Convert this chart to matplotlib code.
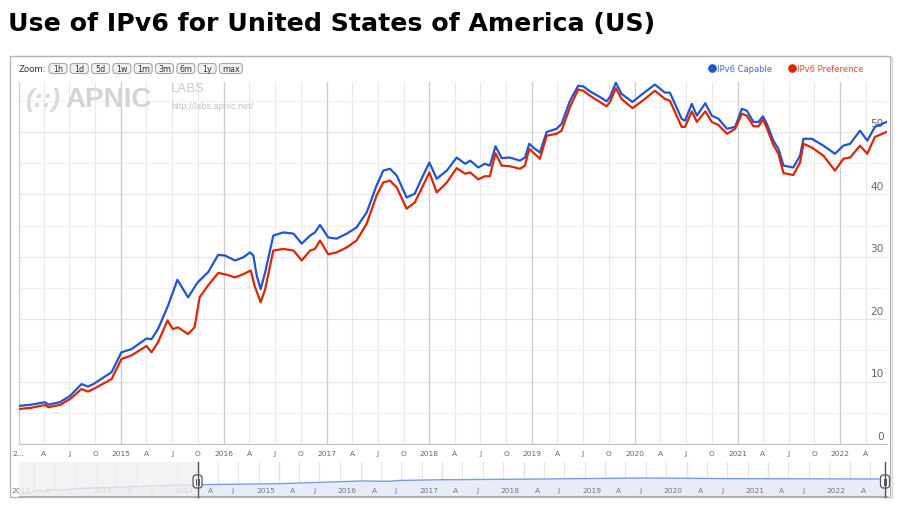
"""IPv6 use for the US (APNIC Labs style chart)."""
import numpy as np
import matplotlib
matplotlib.use("Agg")
import matplotlib.pyplot as plt
import matplotlib.dates as mdates
from matplotlib.patches import FancyBboxPatch, Rectangle

TITLE = "Use of IPv6 for United States of America (US)"
SERIES = ["IPv6 Capable", "IPv6 Preference"]
ZOOM_BTNS = ["1h", "1d", "5d", "1w", "1m", "3m", "6m", "1y", "max"]
Y_TICKS = [0, 10, 20, 30, 40, 50]
Y_MINOR = [5, 15, 25, 35, 45, 55]
X_START, X_END = "2014-01-01", "2022-06-15"
NAV_START = "2011-10-24"

cap_dates = [
    "2014-01-01", "2014-02-15", "2014-04-05", "2014-04-17", "2014-05-28",
    "2014-07-03", "2014-08-13", "2014-09-05", "2014-09-24", "2014-11-28",
    "2015-01-02", "2015-02-07", "2015-04-01", "2015-04-19", "2015-05-12",
    "2015-06-17", "2015-07-20", "2015-08-27", "2015-09-30", "2015-11-06",
    "2015-12-12", "2016-01-05", "2016-02-10", "2016-03-10", "2016-04-03",
    "2016-04-15", "2016-04-27", "2016-05-11", "2016-05-27", "2016-06-25",
    "2016-07-31", "2016-09-05", "2016-10-04", "2016-11-03", "2016-11-20",
    "2016-12-08", "2017-01-06", "2017-02-05", "2017-03-13", "2017-04-17",
    "2017-05-23", "2017-06-27", "2017-07-21", "2017-08-14", "2017-09-07",
    "2017-10-12", "2017-11-10", "2017-12-04", "2018-01-01", "2018-01-27",
    "2018-03-04", "2018-04-08", "2018-05-08", "2018-05-26", "2018-06-24",
    "2018-07-17", "2018-08-04", "2018-08-24", "2018-09-15", "2018-10-14",
    "2018-11-19", "2018-12-07", "2018-12-22", "2019-01-05", "2019-01-29",
    "2019-02-22", "2019-03-29", "2019-04-16", "2019-05-16", "2019-06-14",
    "2019-07-02", "2019-07-26", "2019-08-30", "2019-09-23", "2019-10-05",
    "2019-10-26", "2019-11-15", "2019-12-24", "2020-01-29", "2020-03-13",
    "2020-04-17", "2020-05-05", "2020-06-16", "2020-06-28", "2020-07-22",
    "2020-08-09", "2020-09-08", "2020-10-01", "2020-10-25", "2020-11-24",
    "2020-12-23", "2021-01-16", "2021-02-03", "2021-02-26", "2021-03-16",
    "2021-04-01", "2021-04-15", "2021-05-08", "2021-05-26", "2021-06-13",
    "2021-07-18", "2021-08-11", "2021-08-23", "2021-09-22", "2021-11-02",
    "2021-12-13", "2022-01-12", "2022-02-05", "2022-03-12", "2022-04-07",
    "2022-05-04", "2022-06-15",
]
cap_vals = [
    6.1, 6.3, 6.7, 6.3, 6.7, 7.7, 9.6, 9.2, 9.6, 11.5,
    14.7, 15.2, 16.9, 16.8, 18.4, 22.2, 26.3, 23.5, 25.9, 27.5,
    30.3, 30.2, 29.4, 29.9, 30.7, 30.2, 27.0, 24.8, 27.5, 33.4,
    33.9, 33.7, 32.1, 33.4, 33.9, 35.1, 33.1, 32.9, 33.7, 34.7,
    37.1, 41.4, 43.8, 44.1, 43.0, 39.5, 40.1, 42.5, 45.1, 42.5,
    43.8, 45.9, 44.9, 45.4, 44.3, 44.9, 44.6, 47.7, 45.8, 45.9,
    45.4, 45.9, 48.1, 47.5, 46.7, 50.0, 50.5, 51.3, 55.0, 57.4,
    57.3, 56.5, 55.6, 54.9, 55.6, 57.9, 56.1, 54.8, 56.1, 57.6,
    56.3, 56.3, 52.1, 51.8, 54.5, 52.6, 54.6, 52.6, 52.1, 50.5,
    50.8, 53.7, 53.4, 51.6, 51.6, 52.5, 51.3, 48.6, 47.3, 44.6,
    44.3, 46.2, 48.9, 48.9, 47.8, 46.5, 47.8, 48.1, 50.2, 48.6,
    50.8, 51.6,
]

pref_dates = [
    "2014-01-01", "2014-02-15", "2014-04-05", "2014-04-17", "2014-05-28",
    "2014-07-03", "2014-08-13", "2014-09-05", "2014-09-24", "2014-11-28",
    "2015-01-02", "2015-02-07", "2015-04-01", "2015-04-19", "2015-05-12",
    "2015-06-15", "2015-07-04", "2015-07-22", "2015-08-27", "2015-09-19",
    "2015-10-07", "2015-11-06", "2015-12-12", "2016-01-05", "2016-02-10",
    "2016-03-10", "2016-04-06", "2016-04-19", "2016-05-11", "2016-05-27",
    "2016-06-25", "2016-07-31", "2016-09-05", "2016-10-04", "2016-11-03",
    "2016-11-20", "2016-12-08", "2017-01-06", "2017-02-05", "2017-03-13",
    "2017-04-17", "2017-05-23", "2017-06-27", "2017-07-21", "2017-08-14",
    "2017-09-07", "2017-10-12", "2017-11-10", "2017-12-04", "2018-01-01",
    "2018-01-27", "2018-03-04", "2018-04-08", "2018-05-08", "2018-05-26",
    "2018-06-24", "2018-07-17", "2018-08-04", "2018-08-24", "2018-09-15",
    "2018-10-14", "2018-11-19", "2018-12-07", "2018-12-22", "2019-01-05",
    "2019-01-29", "2019-02-22", "2019-03-29", "2019-04-16", "2019-05-16",
    "2019-06-14", "2019-07-02", "2019-07-26", "2019-08-30", "2019-09-23",
    "2019-10-05", "2019-10-26", "2019-11-15", "2019-12-24", "2020-01-29",
    "2020-03-13", "2020-04-17", "2020-05-05", "2020-06-16", "2020-06-28",
    "2020-07-22", "2020-08-09", "2020-09-08", "2020-10-01", "2020-10-25",
    "2020-11-24", "2020-12-23", "2021-01-16", "2021-02-03", "2021-02-26",
    "2021-03-16", "2021-04-01", "2021-04-15", "2021-05-08", "2021-05-26",
    "2021-06-13", "2021-07-18", "2021-08-11", "2021-08-23", "2021-09-22",
    "2021-11-02", "2021-12-13", "2022-01-12", "2022-02-05", "2022-03-12",
    "2022-04-07", "2022-05-04", "2022-06-15",
]
pref_vals = [
    5.6, 5.8, 6.25, 5.9, 6.25, 7.2, 8.8, 8.4, 8.8, 10.4,
    13.6, 14.2, 15.7, 14.7, 16.3, 19.8, 18.4, 18.7, 17.6, 18.7,
    23.5, 25.4, 27.4, 27.2, 26.7, 27.2, 27.8, 25.4, 22.7, 24.8,
    31.0, 31.25, 31.0, 29.4, 31.0, 31.25, 32.6, 30.4, 30.7, 31.5,
    32.6, 35.3, 39.8, 41.9, 42.2, 41.1, 37.7, 38.7, 40.9, 43.5,
    40.3, 41.9, 44.2, 43.3, 43.5, 42.4, 42.9, 42.9, 46.6, 44.6,
    44.5, 44.1, 44.6, 47.3, 46.7, 45.7, 49.4, 49.7, 50.2, 54.0,
    56.8, 56.6, 55.8, 54.8, 54.1, 54.8, 57.0, 55.3, 53.8, 55.0,
    56.6, 55.3, 55.0, 50.8, 50.8, 53.3, 51.6, 53.3, 51.6, 51.1,
    49.7, 50.5, 52.9, 52.6, 50.9, 50.9, 52.0, 50.6, 47.9, 46.5,
    43.4, 43.1, 45.1, 48.1, 47.5, 46.2, 43.8, 45.7, 45.9, 47.8,
    46.5, 49.2, 50.0,
]

# navigator series (its own scale, 0-100 over the strip height)
nav_dates = [
    "2011-10-26", "2011-12-10", "2012-01-08", "2012-02-06", "2012-03-08",
    "2012-04-22", "2012-07-05", "2012-10-04", "2013-05-01", "2013-12-25",
    "2015-01-01", "2016-01-01", "2016-05-08", "2016-06-15", "2017-01-01",
    "2018-01-01", "2019-07-01", "2020-07-01", "2022-06-15",
]
nav_vals = [
    5.0, 6.8, 16.8, 14.7, 18.5, 16.8, 21.5, 24.4, 28.5, 33.2,
    36.2, 44.1, 43.2, 45.5, 47.9, 49.5, 52.9, 51.0, 50.0,
]

BLUE = "#1f55d0"
RED = "#dd2600"
W, H = 900, 506


def box(x0, y0, x1, y1):
    """pixel box (top-left origin) -> figure fraction rect"""
    return [x0 / W, 1 - y1 / H, (x1 - x0) / W, (y1 - y0) / H]


def quarter_label(x, pos):
    d = mdates.num2date(x)
    if d.month == 1:
        return "2..." if d.year == 2014 else str(d.year)
    return {4: "A", 7: "J", 10: "O"}.get(d.month, "")


fig = plt.figure(figsize=(W / 100, H / 100), dpi=100)
fig.patch.set_facecolor("white")

# ---- main plot
ax = fig.add_axes(box(18.5, 83, 886.7, 445))
xs = np.datetime64(X_START), np.datetime64(X_END)
ax.plot(np.array(cap_dates, dtype="datetime64[D]"), cap_vals,
        color=BLUE, lw=1.6, zorder=4)
ax.plot(np.array(pref_dates, dtype="datetime64[D]"), pref_vals,
        color=RED, lw=1.6, zorder=4)
ax.set_xlim(*xs)
ax.set_ylim(0, 58.0)

ax.xaxis.set_major_locator(mdates.MonthLocator(bymonth=[1, 4, 7, 10]))
ax.xaxis.set_major_formatter(plt.FuncFormatter(quarter_label))
ax.tick_params(axis="x", length=0, pad=4, labelsize=5.4, labelcolor="#666666")
ax.grid(True, axis="x", color="#e8e8e8", lw=0.8)
for t in ax.get_xticks():
    if mdates.num2date(t).month == 1:
        ax.axvline(t, color="#cdcdcd", lw=0.9, zorder=1)

ax.set_yticks(Y_TICKS)
ax.set_yticks(Y_MINOR, minor=True)
ax.tick_params(axis="y", which="both", length=0, labelleft=False)
ax.grid(True, axis="y", which="major", color="#e4e4ec", lw=0.8)
ax.grid(True, axis="y", which="minor", color="#f1f1f5", lw=0.8)
ax.set_axisbelow(True)
for v in Y_TICKS:
    ax.annotate(str(v), xy=(1, v), xycoords=("axes fraction", "data"),
                xytext=(-2, 2.5), textcoords="offset points",
                ha="right", va="bottom", fontsize=7.6, color="#666666")
for s in ("top", "right"):
    ax.spines[s].set_visible(False)
ax.spines["left"].set_color("#d0d0d0")
ax.spines["bottom"].set_color("#c0c0c0")

# ---- navigator
nav = fig.add_axes(box(19, 463, 886.7, 497))
nd = np.array(nav_dates, dtype="datetime64[D]")
nav.fill_between(nd, nav_vals, 0, color="#e7ecf8", lw=0, zorder=2)
nav.plot(nd, nav_vals, color="#7c9de3", lw=1.0, zorder=2.5)
nav.set_xlim(np.datetime64(NAV_START), xs[1])
nav.set_ylim(0, 100)
nav.xaxis.set_major_locator(mdates.MonthLocator(bymonth=[1, 4, 7, 10]))
nav.tick_params(length=0, labelbottom=False, labelleft=False)
nav.set_yticks([])
nav.grid(True, axis="x", color="#e6e6e6", lw=0.8)
for t in nav.get_xticks():
    d = mdates.num2date(t)
    if d.month == 1:
        nav.axvline(t, color="#c8c8c8", lw=0.9, zorder=1)
    if d.month == 10:
        continue
    lbl = str(d.year) if d.month == 1 else {4: "A", 7: "J"}[d.month]
    nav.annotate(lbl, xy=(t, 0), xycoords=("data", "axes fraction"),
                 xytext=(-3, 2), textcoords="offset points",
                 ha="right", va="bottom", fontsize=5.4, color="#777777",
                 zorder=2.6)
nav.axvspan(np.datetime64(NAV_START), xs[0], color="#f0f0f0", alpha=0.8,
            lw=0, zorder=3)
for s in ("top", "right", "left"):
    nav.spines[s].set_visible(False)
nav.spines["bottom"].set_color("#aaaaaa")

# ---- overlay in pixel coordinates
over = fig.add_axes([0, 0, 1, 1], zorder=10)
over.set_xlim(0, W)
over.set_ylim(H, 0)
over.axis("off")
over.patch.set_alpha(0)

over.text(8, 31, TITLE, fontsize=18.2, fontweight="bold", ha="left",
          va="baseline", color="black")
over.add_patch(Rectangle((10, 57), 880, 441, fill=False,
                         edgecolor="#b4b4b4", lw=1))
over.plot([891.5, 891.5], [58, 499], color="#d8d8d8", lw=1)

# zoom buttons
over.text(19, 69.5, "Zoom:", fontsize=6.2, color="#333333",
          ha="left", va="center")
bx = 49
for lbl in ZOOM_BTNS:
    bw = 8 + 5 * len(lbl)
    over.add_patch(FancyBboxPatch((bx, 64.5), bw, 10,
                                  boxstyle="round,pad=0,rounding_size=3",
                                  fc="#f2f2f2", ec="#a8a8a8", lw=0.8))
    over.text(bx + bw / 2, 69.7, lbl, fontsize=5.8, color="#333333",
              ha="center", va="center")
    bx += bw + 3.3

# legend
for (dx, name, col, tcol) in [(712, SERIES[0], BLUE, "#3a6ad6"),
                              (792, SERIES[1], RED, "#e84a2a")]:
    over.plot(dx, 69, "o", color=col, ms=5.2)
    over.text(dx + 5, 69.3, name, fontsize=6, color=tcol,
              ha="left", va="center")

# watermark
over.text(25, 107, "(::)", fontsize=19, fontweight="bold", style="italic",
          color="#dadada", family="Liberation Sans", va="baseline")
over.text(65, 107, "APNIC", fontsize=20, fontweight="bold",
          color="#d4d4d4", family="Liberation Sans", va="baseline")
over.text(171, 92, "LABS", fontsize=9.5, color="#cccccc",
          family="Liberation Sans", va="baseline")
over.text(171, 109, "http://labs.apnic.net/", fontsize=6.6, color="#c4c4c4",
          family="Liberation Sans", va="baseline")

# navigator handles, placed from the navigator's own scale
for d in xs:
    px = nav.transData.transform((mdates.date2num(d), 0))[0]
    px = min(px, 885)
    over.plot([px, px], [463, 498], color="#555555", lw=1)
    over.add_patch(FancyBboxPatch((px - 4.5, 476), 9, 13,
                                  boxstyle="round,pad=0,rounding_size=3",
                                  fc="white", ec="#555555", lw=0.9))
    over.plot([px - 1.2, px - 1.2], [479.5, 485.5], color="#555555", lw=0.7)
    over.plot([px + 1.2, px + 1.2], [479.5, 485.5], color="#555555", lw=0.7)

fig.savefig("out.png", dpi=100)
